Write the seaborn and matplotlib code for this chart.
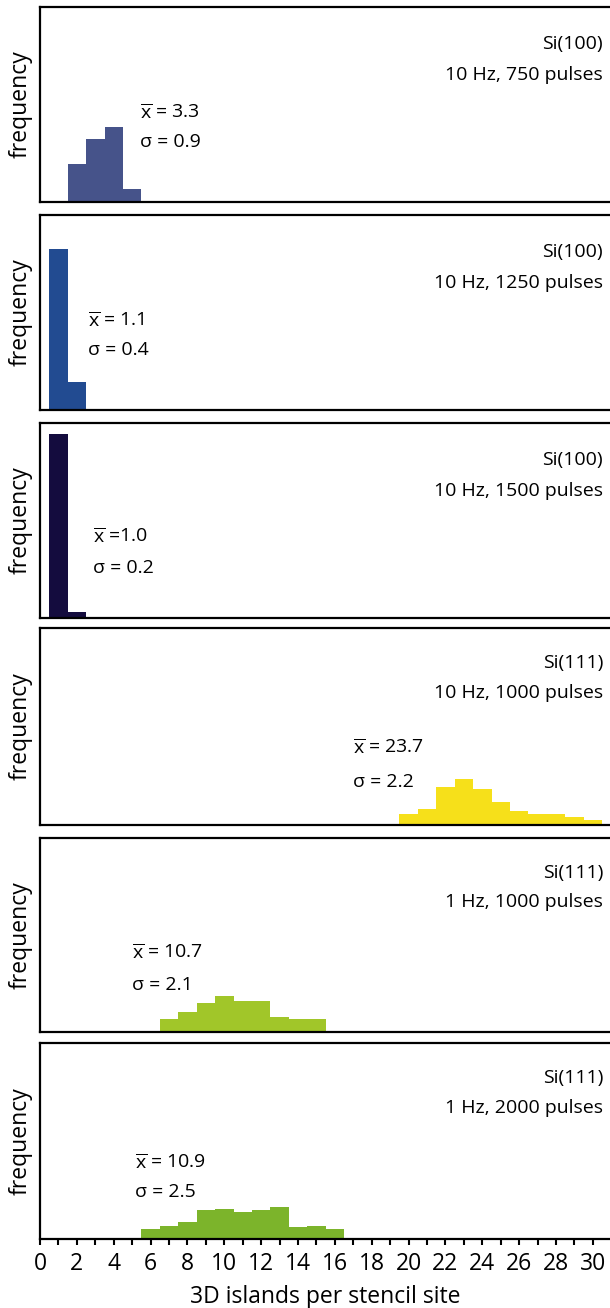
import numpy as np
import matplotlib
matplotlib.use('Agg')
import matplotlib.pyplot as plt
import seaborn as sns

# bin centres (islands per site) and bar heights (relative frequency)
p1_x = [2, 3, 4, 5]
p1_f = [38, 63, 75, 13]
p2_x = [1, 2]
p2_f = [161, 28]
p3_x = [1, 2]
p3_f = [184, 6]
p4_x = [20, 21, 22, 23, 24, 25, 26, 27, 28, 29, 30]
p4_f = [11, 16, 38, 46, 36, 23, 14, 11, 11, 8, 5]
p5_x = [7, 8, 9, 10, 11, 12, 13, 14, 15]
p5_f = [13, 20, 29, 36, 31, 31, 15, 13, 13]
p6_x = [6, 7, 8, 9, 10, 11, 12, 13, 14, 15, 16]
p6_f = [10, 13, 17, 29, 30, 27, 29, 32, 12, 13, 10]

substrates = ['Si(100)', 'Si(100)', 'Si(100)', 'Si(111)', 'Si(111)', 'Si(111)']
conditions = ['10 Hz, 750 pulses', '10 Hz, 1250 pulses', '10 Hz, 1500 pulses',
              '10 Hz, 1000 pulses', '1 Hz, 1000 pulses', '1 Hz, 2000 pulses']
means = ['= 3.3', '= 1.1', '=1.0', '= 23.7', '= 10.7', '= 10.9']
sigmas = ['σ = 0.9', 'σ = 0.4', 'σ = 0.2', 'σ = 2.2', 'σ = 2.1', 'σ = 2.5']
colors = ['#46538a', '#224b91', '#140c3e', '#f6e01a', '#a1c629', '#7cb42b']

panels = [(p1_x, p1_f), (p2_x, p2_f), (p3_x, p3_f), (p4_x, p4_f), (p5_x, p5_f), (p6_x, p6_f)]

# annotation positions: (x data, y axes-fraction of mean line, y of sigma line)
ann_pos = [(5.4, 0.46, 0.31), (2.6, 0.46, 0.31), (2.9, 0.415, 0.256),
           (17.0, 0.39, 0.22), (5.0, 0.41, 0.24), (5.15, 0.39, 0.24)]
label_y = [(0.81, 0.65), (0.81, 0.65), (0.81, 0.65), (0.82, 0.67), (0.82, 0.67), (0.82, 0.67)]

sns.set_style('white')
plt.rcParams['font.family'] = ['Open Sans', 'DejaVu Sans']
plt.rcParams['mathtext.fontset'] = 'custom'
plt.rcParams['mathtext.rm'] = 'Open Sans'
plt.rcParams['mathtext.it'] = 'Open Sans'
plt.rcParams['text.color'] = 'black'
plt.rcParams['axes.labelcolor'] = 'black'
plt.rcParams['xtick.color'] = 'black'

W, H = 610, 1308
fig = plt.figure(figsize=(W / 100, H / 100), dpi=100)

# panel top / bottom pixel rows
rows = [(7, 202), (215, 410), (423, 618), (628, 825), (838, 1032), (1043, 1239)]
fs = 14
fs_ax = 16.5

for i, ((xs, fs_vals), (top, bot)) in enumerate(zip(panels, rows)):
    ax = fig.add_axes([40 / W, 1 - bot / H, 570 / W, (bot - top) / H])
    sns.histplot(x=xs, weights=fs_vals, discrete=True, color=colors[i], alpha=1,
                 linewidth=0, ax=ax)
    ax.set_xlim(0, 30.93)
    ax.set_ylim(0, bot - top)
    ax.set_yticks([])
    ax.set_ylabel('frequency', fontsize=fs_ax, labelpad=5)
    for s in ['top', 'left', 'bottom']:
        ax.spines[s].set_linewidth(1.6)
        ax.spines[s].set_color('black')
    ax.spines['right'].set_visible(False)
    ax.text(30.55, label_y[i][0], substrates[i], transform=ax.get_xaxis_transform(),
            ha='right', va='center', fontsize=fs)
    ax.text(30.55, label_y[i][1], conditions[i], transform=ax.get_xaxis_transform(),
            ha='right', va='center', fontsize=fs)
    xa, ym, ys = ann_pos[i]
    ax.text(xa, ym, r'$\overline{\mathrm{x}}$ ' + means[i], transform=ax.get_xaxis_transform(),
            ha='left', va='center', fontsize=fs)
    ax.text(xa, ys, sigmas[i], transform=ax.get_xaxis_transform(),
            ha='left', va='center', fontsize=fs)
    if i < 5:
        ax.set_xticks([])
        ax.set_xlabel('')
    else:
        ax.set_xticks(np.arange(0, 31, 2))
        ax.set_xticks(np.arange(0, 31, 1), minor=True)
        ax.tick_params(axis='x', which='both', direction='out', length=4, width=1.5,
                       bottom=True, labelsize=fs_ax, pad=5)
        ax.set_xlabel('3D islands per stencil site', fontsize=fs_ax, labelpad=7)

fig.savefig('out.png', dpi=100)
